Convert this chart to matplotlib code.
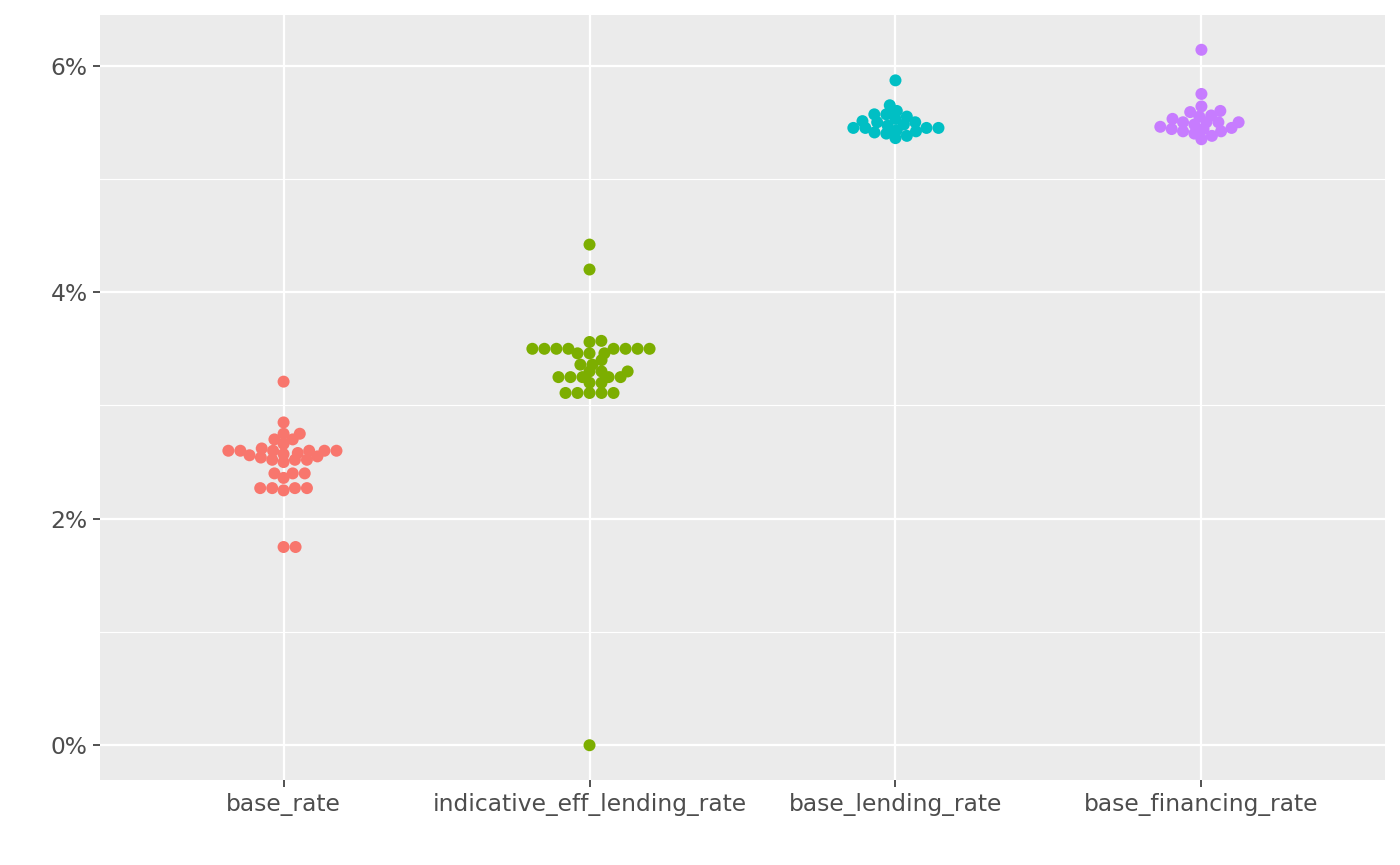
import numpy as np
import matplotlib
matplotlib.use("Agg")
import matplotlib.pyplot as plt
from matplotlib.ticker import FuncFormatter, FixedLocator

categories = ["base_rate", "indicative_eff_lending_rate", "base_lending_rate", "base_financing_rate"]
colors = ["#F8766D", "#7CAE00", "#00BFC4", "#C77CFF"]

base_rate = [3.21, 2.85, 2.75, 2.75, 2.70, 2.70, 2.66, 2.60, 2.60, 2.60, 2.60, 2.60, 2.60,
             2.62, 2.58, 2.57, 2.56, 2.55, 2.54, 2.52, 2.52, 2.52, 2.50, 2.40, 2.40, 2.40, 2.36,
             2.27, 2.27, 2.27, 2.27, 2.25, 1.75, 1.75]
indicative_eff_lending_rate = [4.42, 4.20, 0.00, 3.50, 3.50, 3.50, 3.50, 3.50, 3.50, 3.50, 3.50,
                               3.56, 3.57, 3.46, 3.46, 3.46, 3.40, 3.36, 3.36, 3.30, 3.30, 3.30,
                               3.25, 3.25, 3.25, 3.25, 3.25, 3.20, 3.20, 3.11, 3.11, 3.11, 3.11, 3.11]
base_lending_rate = [5.87, 5.65, 5.60, 5.57, 5.57, 5.55, 5.53, 5.51, 5.50, 5.50, 5.48, 5.47,
                     5.45, 5.45, 5.45, 5.45, 5.43, 5.42, 5.41, 5.40, 5.38, 5.36]
base_financing_rate = [6.14, 5.75, 5.64, 5.60, 5.59, 5.56, 5.55, 5.53, 5.50, 5.50, 5.50, 5.50,
                       5.48, 5.46, 5.45, 5.44, 5.44, 5.42, 5.42, 5.40, 5.38, 5.35]
series = [base_rate, indicative_eff_lending_rate, base_lending_rate, base_financing_rate]

W, H, DPI = 1400, 865, 100
fig = plt.figure(figsize=(W / DPI, H / DPI), dpi=DPI)
L, R, T, B = 100, 1385, 15, 780
ax = fig.add_axes([L / W, 1 - B / H, (R - L) / W, (B - T) / H])
ax.set_facecolor("#EBEBEB")

ymin, ymax = -0.307, 6.447
xmin, xmax = 0.4, 4.6
ax.set_xlim(xmin, xmax)
ax.set_ylim(ymin, ymax)

px_per_y = (B - T) / (ymax - ymin)
px_per_x = (R - L) / (xmax - xmin)
diam_px = 12.0
vsize_px = 7.0   # vertical spacing unit used by the swarm


def swarm(values, dsize, gsize):
    v = np.asarray(values, float) / dsize
    order = np.argsort(v, kind="stable")
    xs = v[order]
    ys = np.zeros(len(xs))
    for ii in range(1, len(xs)):
        xi = xs[ii]
        mask = np.abs(xi - xs[:ii]) < 1
        if mask.any():
            px = xs[:ii][mask]
            py = ys[:ii][mask]
            off = np.sqrt(1 - (xi - px) ** 2)
            pot = np.concatenate([[0.0], py + off, py - off])
            bad = np.array([np.any((xi - px) ** 2 + (p - py) ** 2 < 0.999) for p in pot])
            pot[bad] = np.inf
            ys[ii] = pot[np.argmin(np.abs(pot))]
        else:
            ys[ii] = 0.0
    out = np.zeros(len(xs))
    out[order] = ys * gsize
    return out


ax.yaxis.set_major_locator(FixedLocator([0, 2, 4, 6]))
ax.yaxis.set_minor_locator(FixedLocator([1, 3, 5]))
ax.yaxis.set_major_formatter(FuncFormatter(lambda v, p: f"{v:.0f}%"))
ax.set_xticks(range(1, len(categories) + 1))
ax.set_xticklabels(categories)

ax.grid(which="major", color="white", linewidth=1.6)
ax.grid(which="minor", axis="y", color="white", linewidth=0.8)
ax.set_axisbelow(True)
for s in ax.spines.values():
    s.set_visible(False)
ax.tick_params(which="major", length=5, width=1.2, color="#333333", labelcolor="#4D4D4D",
               labelsize=16.8, pad=4)
ax.tick_params(which="minor", length=0)

for i, (vals, col) in enumerate(zip(series, colors)):
    offs_px = swarm(np.asarray(vals) * px_per_y, vsize_px, diam_px)
    xs = (i + 1) + offs_px / px_per_x
    ax.scatter(xs, vals, s=(diam_px * 72 / DPI) ** 2, color=col, edgecolors="none", zorder=3)

fig.savefig("out.png", dpi=DPI, facecolor="white")
